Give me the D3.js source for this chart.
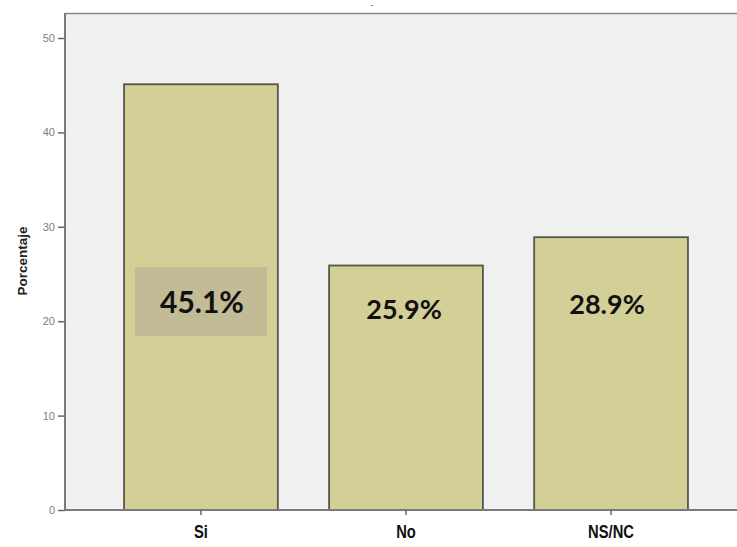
<!DOCTYPE html>
<html>
<head>
<meta charset="utf-8">
<script src="https://cdn.jsdelivr.net/npm/d3@7"></script>
<style>
  html, body { margin: 0; padding: 0; background: #ffffff; }
  svg { display: block; }
</style>
</head>
<body>
<svg id="chart" width="737" height="547"></svg>
<script>
// Survey answers and their share of responses (%)
const categories = ["Si", "No", "NS/NC"];
const percentages = [45.1, 25.9, 28.9];
const valueLabels = ["45.1%", "25.9%", "28.9%"];
const yTicks = [0, 10, 20, 30, 40, 50];
const yTitle = "Porcentaje";

const svg = d3.select("#chart");
const W = 737, H = 547;

const plot = { left: 65, top: 13, bottom: 510, right: 747 };

const x = d3.scaleBand()
  .domain(categories)
  .range([plot.left, plot.right])
  .paddingInner(0.25)
  .paddingOuter(0.288);

const y = d3.scaleLinear()
  .domain([0, 50])
  .range([plot.bottom, 38]);

// Plot background
svg.append("rect")
  .attr("x", plot.left).attr("y", plot.top)
  .attr("width", plot.right - plot.left).attr("height", plot.bottom - plot.top)
  .attr("fill", "#f0f0f0");

// Top frame line
svg.append("line")
  .attr("x1", plot.left).attr("x2", W)
  .attr("y1", plot.top + 0.5).attr("y2", plot.top + 0.5)
  .attr("stroke", "#8a8a8a").attr("stroke-width", 1.5);

// Title placeholder dash
svg.append("text")
  .attr("x", 372).attr("y", 8)
  .attr("text-anchor", "middle")
  .attr("font-family", "Liberation Sans, Arial, sans-serif")
  .attr("font-size", 9)
  .attr("fill", "#555")
  .text("-");

// Bars
const bars = svg.append("g");
bars.selectAll("rect")
  .data(categories)
  .join("rect")
  .attr("x", d => x(d))
  .attr("y", (d, i) => y(percentages[i]))
  .attr("width", x.bandwidth())
  .attr("height", (d, i) => y(0) - y(percentages[i]))
  .attr("fill", "#d3cf96")
  .attr("stroke", "#55554a")
  .attr("stroke-width", 1.8);

// Y axis
const yAxis = svg.append("g")
  .attr("transform", `translate(${plot.left},0)`)
  .call(d3.axisLeft(y).tickValues(yTicks).tickSize(7).tickPadding(3));
yAxis.select(".domain")
  .attr("d", `M0,${plot.top}V${plot.bottom}`)
  .attr("stroke", "#7a7a7a").attr("stroke-width", 2);
yAxis.selectAll(".tick line").attr("stroke", "#666").attr("stroke-width", 1.5);
yAxis.selectAll(".tick text")
  .attr("font-family", "Liberation Sans, Arial, sans-serif")
  .attr("font-size", 11)
  .attr("fill", "#808080");

// X axis
const xAxis = svg.append("g")
  .attr("transform", `translate(0,${plot.bottom})`)
  .call(d3.axisBottom(x).tickSize(5).tickPadding(10));
xAxis.select(".domain")
  .attr("d", `M${plot.left},0H${W}`)
  .attr("stroke", "#7a7a7a").attr("stroke-width", 2);
xAxis.selectAll(".tick line").attr("stroke", "#666").attr("stroke-width", 1.5);
xAxis.selectAll(".tick text")
  .attr("font-family", "Liberation Sans, Arial, sans-serif")
  .attr("font-weight", "bold")
  .attr("font-size", 18)
  .attr("fill", "#111")
  .attr("transform", "scale(0.82,1)")
  .attr("x", function () {
    return 0;
  });

// Y axis title
svg.append("text")
  .attr("transform", `translate(22,261) rotate(-90)`)
  .attr("text-anchor", "middle")
  .attr("dominant-baseline", "central")
  .attr("font-family", "Liberation Sans, Arial, sans-serif")
  .attr("font-weight", "bold")
  .attr("font-size", 13.5)
  .attr("fill", "#222")
  .text(yTitle);

// Value labels inside bars
const labelPos = [
  { dx: 1, yc: 301, size: 30, box: true },
  { dx: -2, yc: 308, size: 27, box: false },
  { dx: -4, yc: 303, size: 27, box: false }
];

categories.forEach((c, i) => {
  const cx = x(c) + x.bandwidth() / 2 + labelPos[i].dx;
  if (labelPos[i].box) {
    svg.append("rect")
      .attr("x", cx - 67).attr("y", labelPos[i].yc - 34)
      .attr("width", 132).attr("height", 69)
      .attr("fill", "#c2bb96");
  }
  svg.append("text")
    .attr("x", cx).attr("y", labelPos[i].yc)
    .attr("text-anchor", "middle")
    .attr("dominant-baseline", "central")
    .attr("font-family", "Lato, Open Sans, sans-serif")
    .attr("font-weight", "bold")
    .attr("font-size", labelPos[i].size)
    .attr("fill", "#111")
    .text(valueLabels[i]);
});
</script>
</body>
</html>
